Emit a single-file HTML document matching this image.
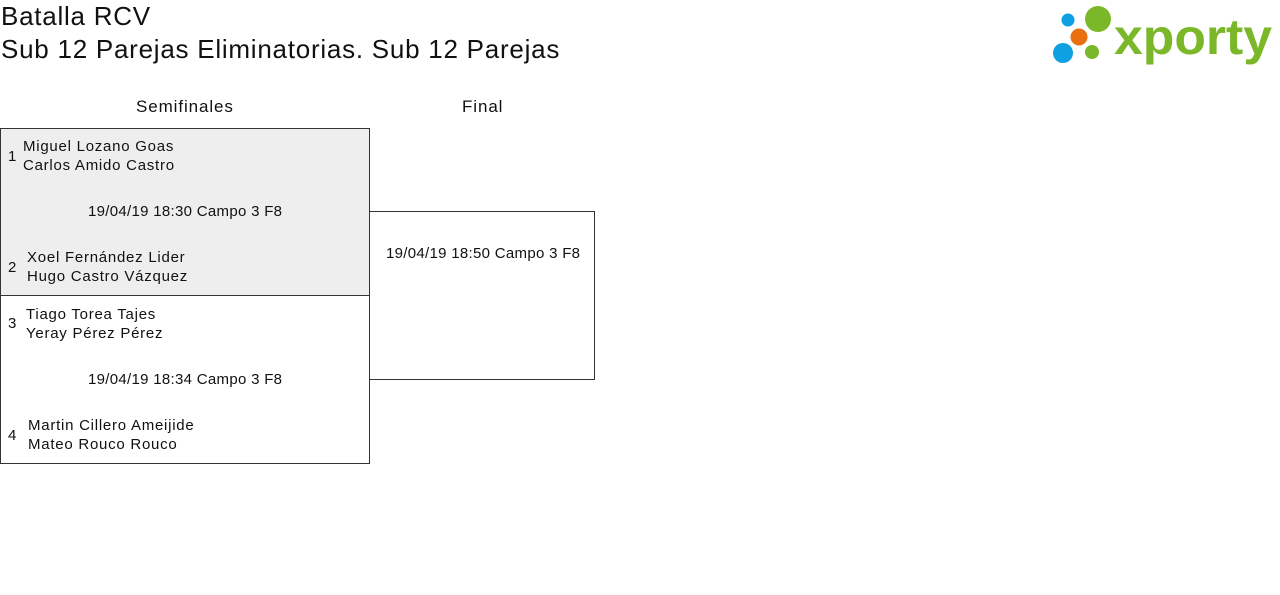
<!DOCTYPE html>
<html><head><meta charset="utf-8"><style>
body{margin:0;width:1280px;height:595px;background:#fff;font-family:"Liberation Sans",sans-serif;color:#111;position:relative;overflow:hidden}
.a{position:absolute;white-space:nowrap}
.t{font-size:26px;left:1px;letter-spacing:0.75px}
.s{font-size:15px;letter-spacing:0.3px}
.n{font-size:15px;letter-spacing:0.75px}
.h{font-size:17px;letter-spacing:0.9px}
.box{position:absolute;border:1px solid #333;box-sizing:border-box}
</style></head><body>
<div class="a t" style="top:1px">Batalla RCV</div>
<div class="a t" style="top:34px">Sub 12 Parejas Eliminatorias. Sub 12 Parejas</div>

<svg class="a" style="left:1050px;top:4px" width="226" height="62" viewBox="1050 4 226 62">
<circle cx="1068" cy="20" r="6.5" fill="#0ea0e0"/>
<circle cx="1098" cy="19" r="13" fill="#7ab829"/>
<circle cx="1079" cy="37" r="8.5" fill="#e8700e"/>
<circle cx="1063" cy="53" r="10" fill="#0ea0e0"/>
<circle cx="1092" cy="52" r="7" fill="#7ab829"/>
<text x="1114" y="54" font-family="Liberation Sans,sans-serif" font-weight="bold" font-size="50" fill="#7ab829" textLength="158" lengthAdjust="spacingAndGlyphs">xporty</text>
</svg>

<div class="a h" style="left:136px;top:97px">Semifinales</div>
<div class="a h" style="left:462px;top:97px">Final</div>

<div class="box" style="left:0;top:128px;width:370px;height:168px;background:#eee"></div>
<div class="box" style="left:0;top:295px;width:370px;height:169px"></div>
<div class="box" style="left:369px;top:211px;width:226px;height:169px"></div>

<div class="a s" style="left:8px;top:148px">1</div>
<div class="a n" style="left:23px;top:138px">Miguel Lozano Goas</div>
<div class="a n" style="left:23px;top:157px">Carlos Amido Castro</div>
<div class="a s" style="left:88px;top:203px">19/04/19 18:30 Campo 3 F8</div>
<div class="a s" style="left:8px;top:259px">2</div>
<div class="a n" style="left:27px;top:249px">Xoel Fernández Lider</div>
<div class="a n" style="left:27px;top:268px">Hugo Castro Vázquez</div>

<div class="a s" style="left:8px;top:315px">3</div>
<div class="a n" style="left:26px;top:306px">Tiago Torea Tajes</div>
<div class="a n" style="left:26px;top:325px">Yeray Pérez Pérez</div>
<div class="a s" style="left:88px;top:371px">19/04/19 18:34 Campo 3 F8</div>
<div class="a s" style="left:8px;top:427px">4</div>
<div class="a n" style="left:28px;top:417px">Martin Cillero Ameijide</div>
<div class="a n" style="left:28px;top:436px">Mateo Rouco Rouco</div>

<div class="a s" style="left:386px;top:245px">19/04/19 18:50 Campo 3 F8</div>
</body></html>
